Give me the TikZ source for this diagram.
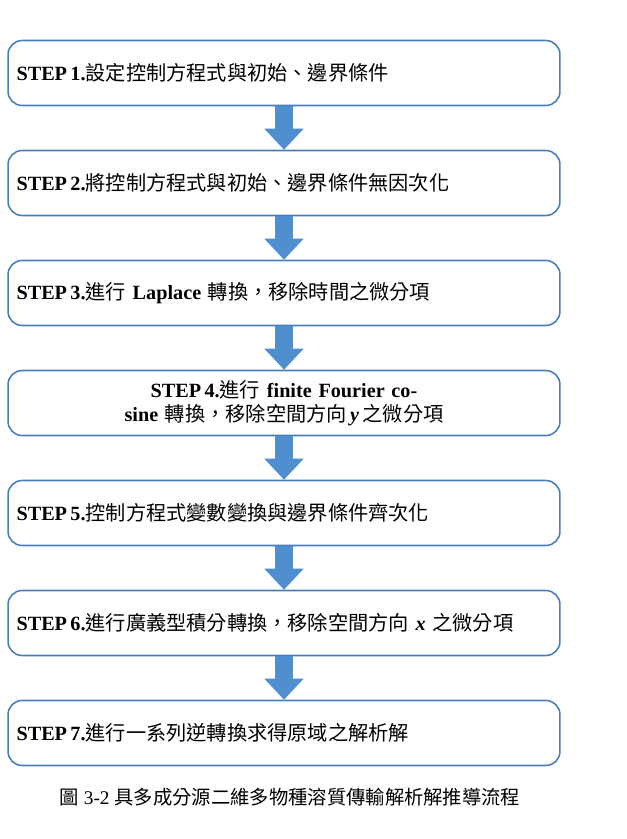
\documentclass[tikz,border=0pt]{standalone}
\usepackage{fontspec}
\setmainfont{Liberation Serif}
\newfontfamily\cjk{Noto Sans CJK TC}
\usetikzlibrary{arrows.meta,positioning}
\definecolor{boxline}{HTML}{4A7EBB}
\definecolor{arrowfill}{HTML}{4F8FD0}

\begin{document}
\begin{tikzpicture}[x=0.02cm,y=-0.02cm,
    stepbox/.style={draw=boxline,line width=0.9pt,rounded corners=8pt,minimum width=11.04cm,minimum height=1.3cm,text width=10.7cm,inner xsep=0.15cm,align=left,font=\fontsize{11.5}{14}\selectfont\bfseries},
    flow/.style={arrowfill,line width=0.36cm,-{Triangle[width=0.76cm,length=0.42cm]}}]
    \useasboundingbox (0,0) rectangle (626,839);
    % Steps
    \node[stepbox] (s1) at (284,73) {STEP\,1.{\cjk\mdseries 設定控制方程式與初始、邊界條件}};
    \node[stepbox] (s2) at (284,183) {STEP\,2.{\cjk\mdseries 將控制方程式與初始、邊界條件無因次化}};
    \node[stepbox] (s3) at (284,293) {STEP\,3.{\cjk\mdseries 進行} Laplace {\cjk\mdseries 轉換，移除時間之微分項}};
    \node[stepbox,align=center] (s4) at (284,403) {STEP\,4.{\cjk\mdseries 進行} finite Fourier cosine {\cjk\mdseries 轉換，移除空間方向}\,\textit{y}\,{\cjk\mdseries 之微分項}};
    \node[stepbox] (s5) at (284,513) {STEP\,5.{\cjk\mdseries 控制方程式變數變換與邊界條件齊次化}};
    \node[stepbox] (s6) at (284,623) {STEP\,6.{\cjk\mdseries 進行廣義型積分轉換，移除空間方向} \textit{x} {\cjk\mdseries 之微分項}};
    \node[stepbox] (s7) at (284,733) {STEP\,7.{\cjk\mdseries 進行一系列逆轉換求得原域之解析解}};
    % Flow arrows
    \foreach \a/\b in {s1/s2,s2/s3,s3/s4,s4/s5,s5/s6,s6/s7}
        \draw[flow] (\a.south) -- (\b.north);
    % Caption
    \node[font=\fontsize{11}{13}\selectfont] (cap) at (290,797) {{\cjk 圖} 3-2 {\cjk 具多成分源二維多物種溶質傳輸解析解推導流程}};
\end{tikzpicture}
\end{document}
